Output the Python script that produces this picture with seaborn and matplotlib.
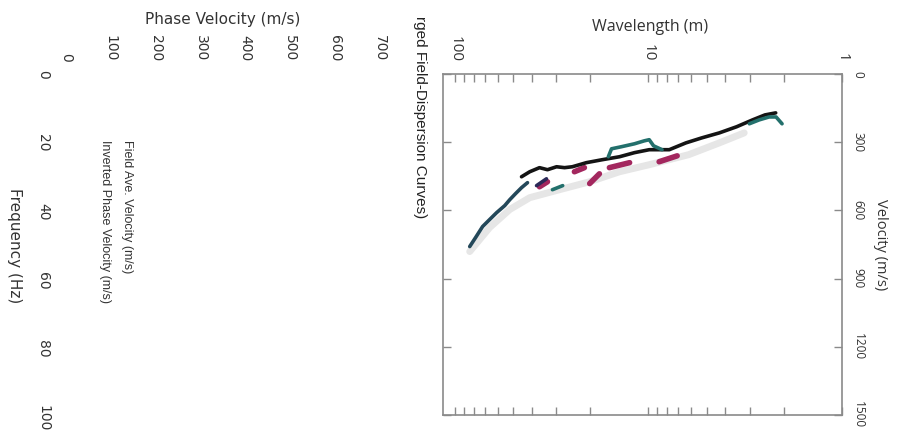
import pandas as pd
import seaborn as sns
import matplotlib.pyplot as plt
from matplotlib.ticker import FixedLocator, LogLocator, NullFormatter, FuncFormatter

# ---- left chart: empty frequency / phase velocity chart (drawn rotated) ----
chart_title = "rged Field-Dispersion Curves)"   # only this part is visible
freq_ticks = [0, 20, 40, 60, 80, 100]
phase_ticks = [0, 100, 200, 300, 400, 500, 600, 700]
legend_labels = ["Field Ave. Velocity (m/s)", "Inverted Phase Velocity (m/s)"]

# ---- right chart: dispersion curves, wavelength (m) vs velocity (m/s) ----
wl_ticks = [100, 10, 1]
vel_ticks = [0, 300, 600, 900, 1200, 1500]

grey_wl = [83.7, 66.0, 52.0, 41.0, 28.8, 20.1, 14.1, 9.9, 6.2, 4.3, 3.2]
grey_v = [781, 675, 596, 544, 509, 474, 430, 399, 355, 303, 259]

black_wl = [45.2, 41.0, 36.5, 33.2, 29.8, 27.1, 24.7, 20.9, 17.3, 14.1,
            11.8, 9.9, 7.8, 6.4, 5.3, 4.3, 3.5, 2.9, 2.5, 2.2]
black_v = [452, 430, 412, 421, 408, 412, 408, 390, 377, 364,
           346, 333, 333, 303, 281, 259, 232, 202, 180, 171]

tail_wl = [83.7, 78.0, 71.8, 66.0, 60.8, 55.2, 52.0, 48.5, 45.2, 42.1]
tail_v = [759, 719, 671, 640, 610, 579, 553, 526, 500, 478]

teal_bump_wl = [16.1, 15.5, 13.8, 11.8, 10.5, 9.9, 9.4, 8.5]
teal_bump_v = [364, 329, 320, 307, 294, 289, 316, 333]
teal_end_wl = [3.01, 2.68, 2.38, 2.19, 2.04]
teal_end_v = [219, 202, 189, 189, 219]
teal_low_wl = [31.3, 27.7]
teal_low_v = [509, 491]

navy_wl = [37.8, 33.6]
navy_v = [491, 461]

mag1_wl, mag1_v = [36.5, 33.2], [496, 474]
mag2_wl, mag2_v = [20.1, 17.9], [482, 439]
mag3_wl, mag3_v = [15.9, 12.5], [412, 390]
mag4_wl, mag4_v = [8.8, 7.1], [386, 360]
mag5_wl, mag5_v = [24.1, 21.4], [430, 412]

segments = [
    ("tail", "tail", tail_wl, tail_v),
    ("black", "black", black_wl, black_v),
    ("teal", "teal_bump", teal_bump_wl, teal_bump_v),
    ("teal", "teal_end", teal_end_wl, teal_end_v),
    ("teal", "teal_low", teal_low_wl, teal_low_v),
    ("navy", "navy", navy_wl, navy_v),
]
mag_segments = [("mag1", mag1_wl, mag1_v), ("mag2", mag2_wl, mag2_v), ("mag3", mag3_wl, mag3_v),
                ("mag4", mag4_wl, mag4_v), ("mag5", mag5_wl, mag5_v)]

rows = []
for series, seg, wl, v in segments:
    for a, b in zip(wl, v):
        rows.append({"series": series, "segment": seg, "wavelength": a, "velocity": b})
curves = pd.DataFrame(rows)

mrows = []
for seg, wl, v in mag_segments:
    for a, b in zip(wl, v):
        mrows.append({"segment": seg, "wavelength": a, "velocity": b})
magenta = pd.DataFrame(mrows)

band = pd.DataFrame({"wavelength": grey_wl, "velocity": grey_v})

palette = {"tail": "#24485a", "black": "#141414", "teal": "#23706c", "navy": "#2b2a58"}

sns.set_style("white")
W, H = 898, 444
fig = plt.figure(figsize=(W / 100, H / 100), dpi=100)


def box(l, t, r, b):
    return [l / W, 1 - b / H, (r - l) / W, (b - t) / H]


# left chart
ax1 = fig.add_axes(box(66, 74, 380, 418))
ax1.set_xlim(0, 700)
ax1.set_ylim(100, 0)
ax1.set_xticks(phase_ticks)
ax1.set_yticks(freq_ticks)
ax1.xaxis.tick_top()
ax1.xaxis.set_label_position("top")
ax1.tick_params(length=0, labelsize=10, labelcolor="#333333")
ax1.tick_params(axis="x", pad=9, labelrotation=-90)
ax1.tick_params(axis="y", pad=11.5, labelrotation=-90)
plt.setp(ax1.get_yticklabels(), va="center")
for s in ax1.spines.values():
    s.set_visible(False)
ax1.set_xlabel("Phase Velocity (m/s)", fontsize=11, color="#333333", labelpad=8)
ax1.set_ylabel("Frequency (Hz)", fontsize=11, color="#333333", rotation=-90, va="top", labelpad=10)

fig.text(127 / W, 1 - 140 / H, legend_labels[0], rotation=-90, ha="center", va="top",
         fontsize=9, family="Liberation Sans", color="#333333")
fig.text(105 / W, 1 - 140 / H, legend_labels[1], rotation=-90, ha="center", va="top",
         fontsize=9, family="Liberation Sans", color="#333333")
fig.text(420 / W, 1 - 218 / H, chart_title, rotation=-90, ha="center", va="bottom",
         fontsize=11, family="Liberation Sans", color="#222222")

# right chart
ax2 = fig.add_axes(box(443, 74, 842, 415))
sns.lineplot(data=band, x="wavelength", y="velocity", color="#e6e6e6",
             linewidth=5, sort=False, estimator=None, ax=ax2)
sns.lineplot(data=magenta, x="wavelength", y="velocity", units="segment", color="#a3275e",
             linewidth=4, sort=False, estimator=None, ax=ax2)
sns.lineplot(data=curves, x="wavelength", y="velocity", hue="series", units="segment",
             palette=palette, linewidth=2.6, sort=False, estimator=None, legend=False, ax=ax2)
ax2.set_xscale("log")
ax2.set_xlim(115, 1)
ax2.set_ylim(1500, 0)
ax2.xaxis.set_major_locator(FixedLocator(wl_ticks))
ax2.xaxis.set_major_formatter(FuncFormatter(lambda v, p: f"{v:g}"))
ax2.xaxis.set_minor_locator(LogLocator(base=10, subs=range(2, 10)))
ax2.xaxis.set_minor_formatter(NullFormatter())
ax2.set_yticks(vel_ticks)
ax2.tick_params(which="both", direction="in", top=True, bottom=True, left=True, right=True,
                labeltop=True, labelbottom=False, labelleft=False, labelright=True,
                length=6, width=1, color="#8a8a8a", labelcolor="#333333")
ax2.tick_params(axis="x", pad=9, labelrotation=-90, labelsize=11, labelfontfamily="Open Sans")
ax2.tick_params(axis="y", pad=7, labelrotation=-90, labelsize=8.5, labelfontfamily="Open Sans")
plt.setp(ax2.get_yticklabels(), va="center")
for s in ax2.spines.values():
    s.set_color("#8a8a8a")
    s.set_linewidth(1.2)
ax2.xaxis.set_label_position("top")
ax2.set_xlabel("Wavelength (m)", fontsize=11.5, family="Open Sans", color="#333333", labelpad=1)
ax2.xaxis.set_label_coords(0.52, 1.125)
ax2.yaxis.set_label_position("right")
ax2.set_ylabel("Velocity (m/s)", fontsize=10.5, family="Open Sans", color="#333333",
               rotation=-90, va="bottom", labelpad=6)

fig.savefig("out.png", dpi=100)
